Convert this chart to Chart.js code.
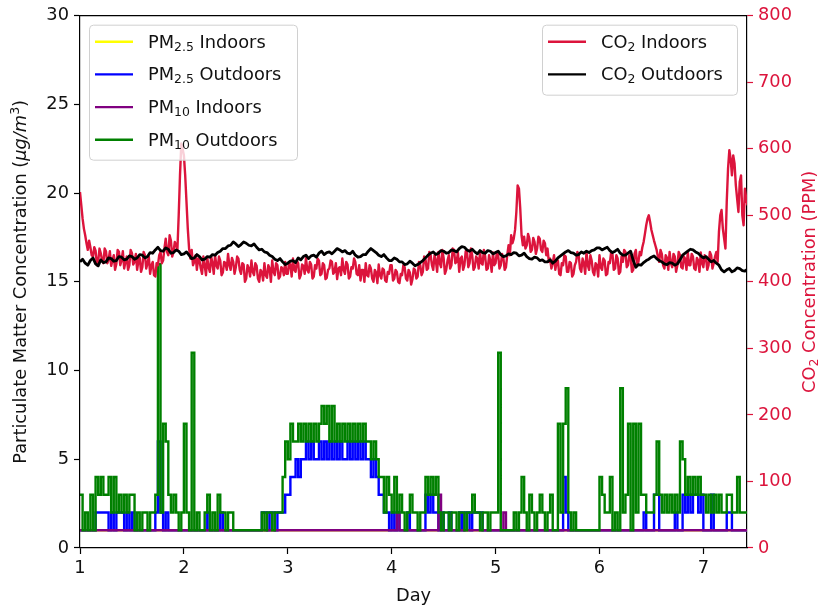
<!DOCTYPE html>
<html>
<head>
<meta charset="utf-8">
<script src="https://cdn.jsdelivr.net/npm/chart.js@4.4.0/dist/chart.umd.min.js"></script>
<style>
  html, body { margin: 0; padding: 0; background: #fff; }
  canvas { display: block; }
</style>
</head>
<body>
<canvas id="chart" width="822" height="613"></canvas>
<script>
const dayStart = 1;
const co2InStep = 0.0125;  // CO2 indoors sample spacing (days)
const co2OutStep = 0.025;  // CO2 outdoors sample spacing (days)
const pmStep = 0.025;      // PM outdoors sample spacing (days)

const xTicks = [1, 2, 3, 4, 5, 6, 7];
const pmTicks = [0, 5, 10, 15, 20, 25, 30];
const co2Ticks = [0, 100, 200, 300, 400, 500, 600, 700, 800];

const co2Indoors = [
  535, 515, 495, 480, 470, 458, 448, 462, 452, 440, 438, 452, 447, 425, 430, 450, 443, 432, 428, 450,
  446, 428, 433, 446, 424, 432, 440, 418, 427, 448, 445, 425, 432, 446, 420, 430, 438, 418, 425, 448,
  443, 426, 430, 442, 418, 432, 436, 415, 422, 445, 440, 420, 428, 438, 412, 425, 430, 410, 408, 428,
  425, 440, 445, 428, 432, 450, 465, 445, 440, 470, 462, 438, 445, 460, 455, 448, 500, 560, 608, 600,
  590, 560, 520, 480, 450, 435, 448, 425, 430, 440, 418, 435, 432, 420, 412, 438, 425, 410, 436, 422,
  415, 438, 428, 412, 440, 425, 420, 438, 432, 410, 414, 430, 428, 418, 442, 425, 418, 436, 430, 412,
  422, 438, 435, 418, 412, 428, 426, 400, 405, 425, 420, 408, 432, 415, 410, 428, 424, 405, 400, 418,
  415, 402, 428, 410, 406, 425, 420, 400, 432, 415, 410, 428, 425, 405, 408, 422, 420, 410, 430, 412,
  412, 430, 425, 408, 435, 418, 415, 432, 428, 405, 410, 426, 424, 412, 436, 418, 414, 430, 426, 405,
  408, 425, 420, 435, 432, 410, 412, 428, 425, 404, 406, 418, 420, 432, 430, 412, 415, 428, 404, 420,
  422, 410, 435, 418, 412, 430, 426, 405, 408, 422, 420, 435, 430, 412, 410, 425, 402, 418, 418, 400,
  428, 410, 408, 425, 420, 405, 400, 418, 414, 398, 426, 410, 405, 420, 418, 402, 400, 415, 412, 425,
  425, 402, 405, 418, 415, 400, 398, 412, 410, 425, 422, 405, 402, 418, 414, 396, 404, 420, 418, 405,
  408, 430, 425, 410, 415, 438, 435, 418, 420, 445, 440, 425, 418, 440, 432, 415, 445, 428, 422, 448,
  436, 412, 418, 432, 440, 420, 425, 450, 448, 428, 430, 444, 415, 435, 438, 418, 425, 446, 445, 422,
  428, 450, 440, 418, 422, 438, 435, 420, 445, 428, 426, 448, 438, 418, 420, 440, 432, 415, 444, 425,
  428, 445, 440, 420, 425, 442, 436, 418, 422, 440, 455, 440, 470, 458, 465, 478, 505, 545, 540, 510,
  470, 455, 468, 450, 455, 472, 465, 445, 448, 466, 460, 442, 450, 468, 465, 448, 445, 462, 458, 440,
  450, 430, 435, 420, 428, 440, 418, 430, 432, 412, 410, 428, 425, 440, 438, 415, 415, 430, 428, 408,
  412, 425, 430, 445, 440, 420, 415, 435, 428, 412, 445, 425, 418, 440, 432, 415, 410, 428, 425, 408,
  440, 422, 418, 435, 432, 410, 412, 430, 428, 445, 442, 418, 420, 440, 435, 412, 415, 438, 430, 448,
  445, 422, 425, 440, 438, 415, 418, 442, 448, 425, 430, 445, 440, 452, 460, 472, 485, 495, 500, 490,
  478, 470, 462, 455, 448, 438, 430, 448, 442, 425, 420, 440, 436, 418, 445, 428, 422, 442, 438, 415,
  425, 445, 440, 422, 420, 438, 435, 418, 445, 425, 425, 442, 438, 420, 418, 436, 432, 415, 444, 428,
  422, 440, 436, 418, 425, 445, 440, 420, 428, 438, 445, 430, 475, 500, 508, 480, 465, 450, 520, 570,
  598, 585, 560, 590, 578, 545, 525, 505, 550, 560, 500, 485, 540, 525, 515
];

const co2Outdoors = [
  430, 434, 428, 425, 432, 436, 427, 424, 433, 429, 430, 436, 435, 431, 432, 438, 437, 433, 434, 439,
  438, 434, 436, 441, 440, 436, 438, 444, 443, 448, 452, 447, 446, 451, 449, 443, 444, 448, 446, 441,
  442, 445, 440, 435, 436, 441, 438, 433, 434, 438, 437, 441, 440, 444, 446, 450, 450, 454, 455, 460,
  457, 453, 456, 460, 458, 455, 454, 457, 452, 448, 449, 445, 444, 440, 438, 434, 432, 435, 430, 426,
  428, 431, 432, 429, 436, 433, 438, 440, 435, 439, 440, 437, 443, 446, 441, 444, 445, 442, 446, 450,
  448, 445, 447, 443, 442, 446, 440, 437, 438, 441, 441, 446, 450, 447, 444, 440, 438, 441, 436, 432,
  432, 436, 434, 430, 430, 426, 427, 431, 428, 424, 426, 429, 432, 436, 440, 443, 445, 441, 443, 447,
  446, 443, 444, 448, 447, 445, 450, 453, 452, 448, 446, 449, 445, 442, 447, 444, 443, 447, 446, 442,
  444, 446, 441, 438, 439, 442, 441, 444, 443, 439, 440, 443, 438, 435, 434, 437, 436, 432, 433, 430,
  430, 433, 428, 431, 436, 439, 442, 445, 447, 444, 443, 440, 441, 445, 443, 446, 444, 447, 448, 451,
  451, 448, 450, 452, 447, 444, 446, 449, 443, 440, 440, 443, 446, 432, 422, 426, 425, 429, 432, 434,
  437, 439, 435, 432, 430, 427, 426, 429, 428, 425, 427, 433, 440, 443, 446, 449, 448, 445, 443, 439,
  436, 438, 434, 430, 432, 428, 425, 418, 415, 418, 420, 415, 417, 421, 420, 417, 416, 419, 418
];

const pm10Outdoors = [
  3, 1, 2, 1, 3, 1, 4, 3, 4, 3,
  3, 4, 2, 4, 2, 3, 2, 3, 2, 3,
  3, 1, 2, 1, 2, 2, 1, 2, 2, 3,
  16, 2, 7, 6, 3, 2, 3, 2, 1, 2,
  7, 2, 1, 11, 1, 2, 1, 1, 2, 3,
  1, 2, 1, 3, 2, 2, 1, 2, 2, 1,
  1, 1, 1, 1, 1, 1, 1, 1, 1, 1,
  2, 1, 2, 2, 1, 2, 2, 2, 4, 6,
  5, 7, 6, 6, 7, 6, 7, 6, 7, 6,
  7, 6, 7, 8, 7, 8, 6, 8, 6, 7,
  6, 7, 6, 7, 6, 7, 6, 7, 6, 7,
  6, 6, 5, 6, 5, 4, 4, 2, 4, 3,
  2, 4, 2, 3, 2, 1, 2, 3, 2, 2,
  1, 2, 2, 4, 3, 4, 3, 4, 2, 1,
  2, 2, 1, 2, 2, 1, 2, 2, 1, 2,
  2, 3, 2, 2, 1, 2, 2, 1, 2, 2,
  2, 11, 1, 1, 1, 1, 1, 2, 1, 2,
  4, 2, 1, 3, 2, 1, 2, 3, 2, 1,
  2, 3, 1, 1, 7, 2, 7, 9, 2, 1,
  2, 1, 1, 1, 1, 1, 1, 1, 1, 1,
  4, 3, 2, 2, 4, 1, 2, 1, 9, 2,
  3, 7, 1, 7, 2, 7, 3, 3, 2, 2,
  2, 3, 6, 3, 2, 3, 2, 3, 2, 3,
  2, 6, 5, 3, 4, 3, 4, 3, 4, 3,
  3, 2, 3, 2, 3, 2, 3, 2, 2, 3,
  3, 2, 2, 4, 2, 2, 2, 2
];

const pm25Outdoors = [
  1, 1, 1, 1, 1, 1, 2, 2, 2, 2,
  2, 1, 2, 1, 2, 2, 2, 1, 2, 1,
  2, 1, 1, 1, 1, 1, 1, 1, 1, 2,
  6, 2, 1, 2, 1, 1, 1, 1, 1, 1,
  1, 1, 1, 1, 1, 1, 1, 1, 1, 2,
  1, 1, 1, 1, 2, 1, 1, 1, 1, 1,
  1, 1, 1, 1, 1, 1, 1, 1, 1, 1,
  2, 2, 1, 2, 2, 1, 2, 2, 2, 3,
  3, 4, 4, 5, 4, 5, 5, 6, 5, 6,
  5, 5, 6, 5, 6, 5, 6, 5, 6, 5,
  6, 5, 5, 6, 5, 6, 5, 6, 5, 6,
  5, 5, 4, 5, 4, 3, 3, 2, 2, 1,
  2, 1, 2, 1, 1, 1, 2, 1, 1, 1,
  1, 1, 1, 3, 2, 3, 2, 2, 1, 2,
  1, 1, 2, 1, 1, 1, 2, 1, 2, 2,
  1, 2, 2, 2, 2, 1, 1, 1, 1, 1,
  1, 1, 1, 1, 1, 1, 1, 1, 1, 1,
  1, 1, 1, 1, 1, 1, 1, 1, 1, 1,
  1, 1, 1, 1, 1, 1, 4, 2, 1, 1,
  1, 1, 1, 1, 1, 1, 1, 1, 1, 1,
  1, 1, 1, 1, 1, 1, 1, 1, 1, 1,
  1, 1, 1, 1, 1, 1, 1, 2, 1, 1,
  1, 3, 3, 1, 1, 1, 1, 1, 1, 2,
  1, 1, 3, 2, 3, 2, 3, 3, 2, 3,
  1, 1, 1, 3, 1, 1, 1, 1, 1, 2,
  2, 1, 1, 1, 1, 1, 1, 1
];

// Indoor PM hardly moves, so it is kept as change points (day, value)
const pm10IndoorDays = [1, 4.05, 4.075, 4.45, 4.475, 5.075, 5.1, 7.425];
const pm10IndoorVals = [1, 2, 1, 3, 1, 2, 1, 1];
const pm25IndoorDays = [1, 7.425];
const pm25IndoorVals = [1, 1];

const FAMILY = '"DejaVu Sans", sans-serif';
const FONT = 17.8;
const CRIMSON = '#dc143c';

Chart.defaults.font.family = FAMILY;
Chart.defaults.font.size = FONT;
Chart.defaults.color = '#000';

function grid(start, step, values) {
  return values.map((v, i) => ({ x: start + i * step, y: v }));
}
function changePoints(days, values) {
  return days.map((d, i) => ({ x: d, y: values[i] }));
}

// draw text with sub/superscript pieces, y is the baseline
function richWidth(ctx, parts) {
  let w = 0;
  parts.forEach(p => {
    const size = (p.sub || p.sup) ? FONT * 0.7 : FONT;
    ctx.font = (p.italic ? 'italic ' : '') + size + 'px ' + FAMILY;
    w += ctx.measureText(p.t).width;
  });
  return w;
}
function drawRich(ctx, x, y, parts) {
  let cx = x;
  parts.forEach(p => {
    const size = (p.sub || p.sup) ? FONT * 0.7 : FONT;
    ctx.font = (p.italic ? 'italic ' : '') + size + 'px ' + FAMILY;
    const dy = p.sub ? 3 : p.sup ? -7 : 0;
    ctx.fillText(p.t, cx, y + dy);
    cx += ctx.measureText(p.t).width;
  });
}

const leftLegend = [
  { color: '#ffff00', parts: [{ t: 'PM' }, { t: '2.5', sub: true }, { t: ' Indoors' }] },
  { color: '#0000ff', parts: [{ t: 'PM' }, { t: '2.5', sub: true }, { t: ' Outdoors' }] },
  { color: '#800080', parts: [{ t: 'PM' }, { t: '10', sub: true }, { t: ' Indoors' }] },
  { color: '#008000', parts: [{ t: 'PM' }, { t: '10', sub: true }, { t: ' Outdoors' }] }
];
const rightLegend = [
  { color: CRIMSON, parts: [{ t: 'CO' }, { t: '2', sub: true }, { t: ' Indoors' }] },
  { color: '#000000', parts: [{ t: 'CO' }, { t: '2', sub: true }, { t: ' Outdoors' }] }
];

function drawLegend(ctx, x, y, w, h, items) {
  ctx.save();
  ctx.beginPath();
  ctx.roundRect(x + 0.5, y + 0.5, w, h, 4);
  ctx.fillStyle = 'rgba(255,255,255,0.8)';
  ctx.fill();
  ctx.strokeStyle = '#d0d0d0';
  ctx.lineWidth = 1;
  ctx.stroke();
  items.forEach((it, i) => {
    const cy = y + 17 + i * 32.7;
    ctx.beginPath();
    ctx.moveTo(x + 6, cy);
    ctx.lineTo(x + 44, cy);
    ctx.strokeStyle = it.color;
    ctx.lineWidth = 2.4;
    ctx.stroke();
    ctx.fillStyle = '#111';
    ctx.textBaseline = 'alphabetic';
    drawRich(ctx, x + 59, cy + 6, it.parts);
  });
  ctx.restore();
}

const decorations = {
  id: 'decorations',
  afterDatasetsDraw(chart) {
    const ctx = chart.ctx;
    const a = chart.chartArea;
    // top spine
    ctx.save();
    ctx.strokeStyle = '#000';
    ctx.lineWidth = 1.2;
    ctx.beginPath();
    ctx.moveTo(a.left, a.top);
    ctx.lineTo(a.right, a.top);
    ctx.stroke();
    ctx.restore();

    drawLegend(ctx, a.left + 9, a.top + 9, 208, 135, leftLegend);
    drawLegend(ctx, a.right - 10 - 195, a.top + 9, 195, 70, rightLegend);

    // axis titles
    const midY = (a.top + a.bottom) / 2;
    const leftTitle = [
      { t: 'Particulate Matter Concentration (' },
      { t: 'μg/m', italic: true },
      { t: '3', sup: true },
      { t: ')' }
    ];
    const rightTitle = [{ t: 'CO' }, { t: '2', sub: true }, { t: ' Concentration (PPM)' }];
    ctx.save();
    ctx.textBaseline = 'alphabetic';
    ctx.fillStyle = '#111';
    ctx.translate(19.7 + 6, midY);
    ctx.rotate(-Math.PI / 2);
    drawRich(ctx, -richWidth(ctx, leftTitle) / 2, 0, leftTitle);
    ctx.restore();

    ctx.save();
    ctx.textBaseline = 'alphabetic';
    ctx.fillStyle = CRIMSON;
    ctx.translate(chart.width - 13.5 + 6, midY);
    ctx.rotate(-Math.PI / 2);
    drawRich(ctx, -richWidth(ctx, rightTitle) / 2, 0, rightTitle);
    ctx.restore();
  }
};

const lineBase = { pointRadius: 0, borderWidth: 2.4, tension: 0, fill: false };

new Chart(document.getElementById('chart'), {
  type: 'line',
  data: {
    datasets: [
      { ...lineBase, label: 'CO2 Outdoors', data: grid(dayStart, co2OutStep, co2Outdoors),
        borderColor: '#000000', yAxisID: 'y2', order: 1, borderJoinStyle: 'round', borderWidth: 2.8 },
      { ...lineBase, label: 'CO2 Indoors', data: grid(dayStart, co2InStep, co2Indoors),
        borderColor: CRIMSON, yAxisID: 'y2', order: 2, borderJoinStyle: 'round' },
      { ...lineBase, label: 'PM10 Outdoors', data: grid(dayStart, pmStep, pm10Outdoors),
        borderColor: '#008000', yAxisID: 'y', order: 3, stepped: true },
      { ...lineBase, label: 'PM10 Indoors', data: changePoints(pm10IndoorDays, pm10IndoorVals),
        borderColor: '#800080', yAxisID: 'y', order: 4, stepped: true },
      { ...lineBase, label: 'PM2.5 Outdoors', data: grid(dayStart, pmStep, pm25Outdoors),
        borderColor: '#0000ff', yAxisID: 'y', order: 5, stepped: true },
      { ...lineBase, label: 'PM2.5 Indoors', data: changePoints(pm25IndoorDays, pm25IndoorVals),
        borderColor: '#ffff00', yAxisID: 'y', order: 6, stepped: true }
    ]
  },
  options: {
    responsive: false,
    animation: false,
    events: [],
    layout: { padding: { top: 13, left: 0, right: 0, bottom: 0 } },
    plugins: { legend: { display: false }, tooltip: { enabled: false } },
    scales: {
      x: {
        type: 'linear',
        min: 1,
        max: 7.42,
        afterBuildTicks: s => { s.ticks = xTicks.map(v => ({ value: v })); },
        afterFit: s => { s.height = 65; },
        ticks: { padding: 4, color: '#111' },
        grid: { drawOnChartArea: false, drawTicks: true, tickLength: 6, tickColor: '#000', tickWidth: 1.2 },
        border: { display: true, color: '#000', width: 1.2 },
        title: { display: true, text: 'Day', color: '#111', padding: { top: 0, bottom: 6 } }
      },
      y: {
        position: 'left',
        min: 0,
        max: 30,
        afterBuildTicks: s => { s.ticks = pmTicks.map(v => ({ value: v })); },
        afterFit: s => { s.width = 80; },
        ticks: { padding: 5, color: '#111' },
        grid: { drawOnChartArea: false, drawTicks: true, tickLength: 6, tickColor: '#000', tickWidth: 1.2 },
        border: { display: true, color: '#000', width: 1.2 }
      },
      y2: {
        position: 'right',
        min: 0,
        max: 800,
        afterBuildTicks: s => { s.ticks = co2Ticks.map(v => ({ value: v })); },
        afterFit: s => { s.width = 75; },
        ticks: { padding: 5, color: CRIMSON },
        grid: { drawOnChartArea: false, drawTicks: true, tickLength: 6, tickColor: CRIMSON, tickWidth: 1.2 },
        border: { display: true, color: '#000', width: 1.2 }
      }
    }
  },
  plugins: [decorations]
});
</script>
</body>
</html>
